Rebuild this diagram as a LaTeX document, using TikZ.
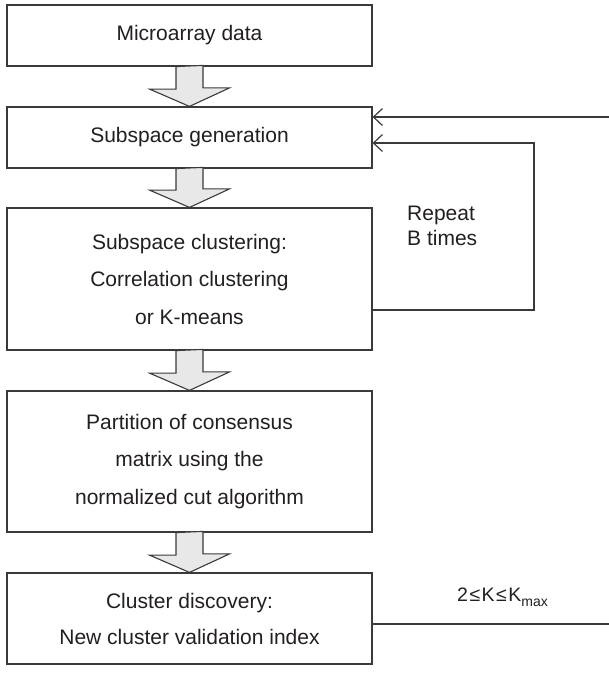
\documentclass[tikz,border=0pt]{standalone}
\usepackage{fontspec}
\setmainfont{Liberation Sans}
\usetikzlibrary{arrows.meta,calc}
\definecolor{linegray}{HTML}{3A3A3A}
\definecolor{textgray}{HTML}{231F20}
\definecolor{fillgray}{HTML}{E8E8E8}
\tikzset{
  box/.style={draw=linegray, line width=1.2pt, fill=white, minimum width=365pt,
    inner sep=0pt, align=center, text=textgray,
    font=\fontsize{21}{37.5}\selectfont},
  fatarrow/.style={draw=linegray, line width=1.1pt, fill=fillgray, line join=miter},
  conn/.style={draw=linegray, line width=1.2pt},
  barb/.style={conn, -{Straight Barb[length=9pt,width=17pt,line width=1.2pt]}},
  lbl/.style={text=textgray, inner sep=0pt}
}
\begin{document}
\begin{tikzpicture}[x=1pt,y=-1pt]
\useasboundingbox (0,0) rectangle (609,675);
\node[box, minimum height=61pt] (b1) at (189.5,35.5) {Microarray data};
\node[box, minimum height=61pt] (b2) at (189.5,137.5) {Subspace generation};
\node[box, minimum height=142pt] (b3) at (189.5,279) {Subspace clustering:\\Correlation clustering\\or K-means};
\node[box, minimum height=141pt] (b4) at (189.5,461.5) {Partition of consensus\\matrix using the\\normalized cut algorithm};
\node[box, minimum height=91pt, font=\fontsize{21}{36}\selectfont] (b5) at (189.5,618.5) {Cluster discovery:\\New cluster validation index};
% fat arrows
\draw[fatarrow] (b1.south) ++(-13.5,0) -- ++(0,22.5) -- ++(-26.5,0) -- (b2.north) -- ++(40,-18.5) -- ++(-26.5,0) -- ++(0,-22.5) -- cycle;
\draw[fatarrow] (b2.south) ++(-13.5,0) -- ++(0,21.5) -- ++(-26.5,0) -- (b3.north) -- ++(40,-18.5) -- ++(-26.5,0) -- ++(0,-21.5) -- cycle;
\draw[fatarrow] (b3.south) ++(-13.5,0) -- ++(0,22.5) -- ++(-26.5,0) -- (b4.north) -- ++(40,-18.5) -- ++(-26.5,0) -- ++(0,-22.5) -- cycle;
\draw[fatarrow] (b4.south) ++(-13.5,0) -- ++(0,22.5) -- ++(-26.5,0) -- (b5.north) -- ++(40,-18.5) -- ++(-26.5,0) -- ++(0,-22.5) -- cycle;
% right connectors
\coordinate (r1) at (609,117);
\coordinate (l1) at (534,310);
\coordinate (l2) at (534,143);
\coordinate (r2) at (609,624);
\draw[barb] (r1) -- (r1 -| b2.east);
\draw[barb] (l1 -| b3.east) -- (l1) -- (l2) -- (l2 -| b2.east);
\draw[conn] (r2 -| b5.east) -- (r2);
% labels
\node[lbl, anchor=west, align=left, font=\fontsize{21}{25}\selectfont] (rep) at (407,225.5) {Repeat\\B times};
\node[lbl, anchor=base west, font=\fontsize{19.5}{21}\selectfont] (kk) at (457,601) {2\kern1.5pt≤\kern1.5pt K\kern1.5pt≤\kern1.5pt K\raisebox{-5pt}{\fontsize{14}{14}\selectfont max}};
\end{tikzpicture}
\end{document}
